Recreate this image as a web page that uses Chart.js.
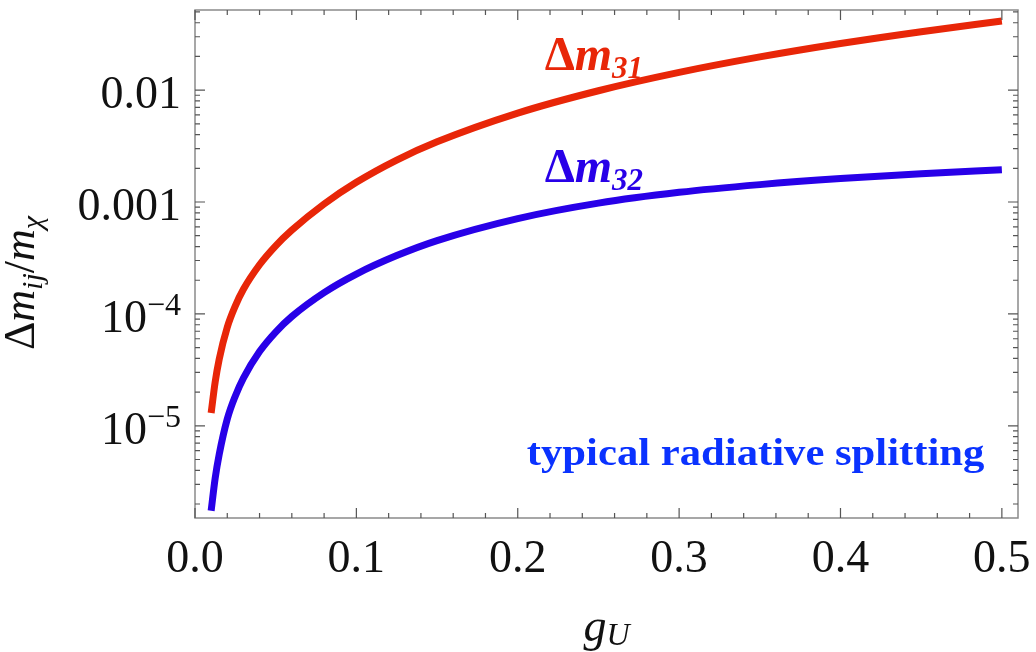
<!DOCTYPE html>
<html lang="en">
<head>
    <meta charset="UTF-8">
    <title>Radiative mass splitting</title>
    <script src="https://cdn.jsdelivr.net/npm/chart.js"></script>
    <style>
        body {
            margin: 0;
            background: #fff;
        }
        #wrap {
            width: 1036px;
            height: 652px;
        }
    </style>
</head>
<body>

<div id="wrap"><canvas id="splitChart"></canvas></div>

<script>
    // coupling g_U
    const gU = [0.01, 0.0125, 0.015, 0.02, 0.025, 0.03, 0.04, 0.05, 0.06, 0.08, 0.1,
                0.125, 0.15, 0.2, 0.25, 0.3, 0.35, 0.4, 0.45, 0.5];
    // Δm31 / m_χ
    const dm31 = [1.30e-5, 2.46e-5, 3.94e-5, 7.6e-5, 1.18e-4, 1.66e-4, 2.75e-4, 4.06e-4, 5.6e-4, 9.6e-4, 1.5e-3,
                  2.37e-3, 3.45e-3, 6.23e-3, 9.87e-3, 1.44e-2, 1.98e-2, 2.61e-2, 3.33e-2, 4.14e-2];
    // Δm32 / m_χ
    const dm32 = [1.74e-6, 3.40e-6, 5.56e-6, 1.15e-5, 1.85e-5, 2.67e-5, 4.61e-5, 6.89e-5, 9.48e-5, 1.55e-4, 2.27e-4,
                  3.32e-4, 4.52e-4, 7.11e-4, 9.77e-4, 1.22e-3, 1.43e-3, 1.62e-3, 1.79e-3, 1.94e-3];

    const xTickValues = [0, 0.1, 0.2, 0.3, 0.4, 0.5];
    const xTickLabels = ['0.0', '0.1', '0.2', '0.3', '0.4', '0.5'];
    const yTickValues = [0.01, 0.001, 1e-4, 1e-5];
    const yTickLabels = [['0.01', ''], ['0.001', ''], ['10', '\u22124'], ['10', '\u22125']];

    const RED = 'rgb(232, 38, 8)';
    const BLUE = 'rgb(40, 0, 232)';
    const TEXT_BLUE = 'rgb(10, 50, 255)';
    const SERIF = '"Liberation Serif", "DejaVu Serif", serif';

    // draw a run of text pieces: [text, font, dy, color]
    function drawRun(ctx, x, y, pieces) {
        let cx = x;
        pieces.forEach(p => {
            ctx.font = p[1];
            ctx.fillStyle = p[3] || '#111';
            ctx.fillText(p[0], cx, y + (p[2] || 0));
            cx += ctx.measureText(p[0]).width;
        });
        return cx - x;
    }

    function runWidth(ctx, pieces) {
        let w = 0;
        pieces.forEach(p => { ctx.font = p[1]; w += ctx.measureText(p[0]).width; });
        return w;
    }

    const framePlugin = {
        id: 'framePlugin',
        afterDraw(chart) {
            const ctx = chart.ctx;
            const a = chart.chartArea;
            const xs = chart.scales.x;
            const ys = chart.scales.y;
            ctx.save();

            // frame
            ctx.strokeStyle = '#8a8a8a';
            ctx.lineWidth = 1.5;
            ctx.strokeRect(a.left, a.top, a.right - a.left, a.bottom - a.top);

            // x ticks (inward, bottom and top)
            ctx.strokeStyle = '#555';
            ctx.lineWidth = 1.2;
            for (let i = 0; i <= 25; i++) {
                const v = i * 0.02;
                const px = xs.getPixelForValue(v);
                const len = (i % 5 === 0) ? 10 : 5;
                ctx.beginPath();
                ctx.moveTo(px, a.bottom); ctx.lineTo(px, a.bottom - len);
                ctx.moveTo(px, a.top); ctx.lineTo(px, a.top + len);
                ctx.stroke();
            }

            // y ticks (log, inward, left and right)
            for (let e = -6; e <= -2; e++) {
                for (let k = 1; k <= 9; k++) {
                    const v = k * Math.pow(10, e);
                    if (v < ys.min || v > ys.max) continue;
                    const py = ys.getPixelForValue(v);
                    const len = (k === 1) ? 10 : 5;
                    ctx.beginPath();
                    ctx.moveTo(a.left, py); ctx.lineTo(a.left + len, py);
                    ctx.moveTo(a.right, py); ctx.lineTo(a.right - len, py);
                    ctx.stroke();
                }
            }

            // y tick labels with exponents
            ctx.textBaseline = 'alphabetic';
            ctx.textAlign = 'left';
            yTickValues.forEach((v, i) => {
                const py = ys.getPixelForValue(v);
                const pieces = [[yTickLabels[i][0], '46px ' + SERIF, 0]];
                if (yTickLabels[i][1]) pieces.push([yTickLabels[i][1], '32px ' + SERIF, -17]);
                const w = runWidth(ctx, pieces);
                drawRun(ctx, a.left - 14 - w, py + 18, pieces);
            });

            // y axis title, rotated
            ctx.save();
            ctx.translate(34, 350);
            ctx.rotate(-Math.PI / 2);
            drawRun(ctx, 0, 0, [
                ['\u0394', '44px ' + SERIF, 0],
                ['m', 'italic 44px ' + SERIF, 0],
                ['ij', 'italic 30px ' + SERIF, 8],
                ['/', '44px ' + SERIF, 0],
                ['m', 'italic 44px ' + SERIF, 0],
                ['\u03c7', 'italic 30px ' + SERIF, 8]
            ]);
            ctx.restore();

            // x axis title
            const xt = [['g', 'italic 46px ' + SERIF, 0], ['U', 'italic 32px ' + SERIF, 4]];
            const xw = runWidth(ctx, xt);
            drawRun(ctx, (a.left + a.right) / 2 - xw / 2, 641, xt);

            // curve labels
            drawRun(ctx, xs.getPixelForValue(0.2167), ys.getPixelForValue(0.0151), [
                ['\u0394', 'bold 48px ' + SERIF, 0, RED],
                ['m', 'bold italic 48px ' + SERIF, 0, RED],
                ['31', 'bold italic 31px ' + SERIF, 8, RED]
            ]);
            drawRun(ctx, xs.getPixelForValue(0.2167), ys.getPixelForValue(1.51e-3), [
                ['\u0394', 'bold 48px ' + SERIF, 0, BLUE],
                ['m', 'bold italic 48px ' + SERIF, 0, BLUE],
                ['32', 'bold italic 31px ' + SERIF, 8, BLUE]
            ]);

            // note, stretched to the width it has in the original
            const note = 'typical radiative splitting';
            ctx.font = 'bold 37px ' + SERIF;
            ctx.fillStyle = TEXT_BLUE;
            ctx.textAlign = 'left';
            const nx0 = xs.getPixelForValue(0.2056);
            const nx1 = xs.getPixelForValue(0.4892);
            const ny = ys.getPixelForValue(4.49e-6);
            const sx = (nx1 - nx0) / ctx.measureText(note).width;
            ctx.save();
            ctx.translate(nx0, ny);
            ctx.scale(sx, 1);
            ctx.fillText(note, 0, 0);
            ctx.restore();

            ctx.restore();
        }
    };

    const ctx = document.getElementById('splitChart').getContext('2d');
    new Chart(ctx, {
        type: 'line',
        data: {
            datasets: [{
                label: 'Δm31',
                data: gU.map((g, i) => ({ x: g, y: dm31[i] })),
                borderColor: RED,
                borderWidth: 7,
                pointRadius: 0,
                cubicInterpolationMode: 'monotone',
                fill: false
            }, {
                label: 'Δm32',
                data: gU.map((g, i) => ({ x: g, y: dm32[i] })),
                borderColor: BLUE,
                borderWidth: 7,
                pointRadius: 0,
                cubicInterpolationMode: 'monotone',
                fill: false
            }]
        },
        options: {
            responsive: true,
            maintainAspectRatio: false,
            animation: false,
            layout: { padding: { top: 10, right: 18, left: 0, bottom: 0 } },
            plugins: {
                legend: { display: false },
                tooltip: { enabled: false }
            },
            scales: {
                x: {
                    type: 'linear',
                    min: 0,
                    max: 0.51,
                    afterBuildTicks: s => { s.ticks = xTickValues.map(v => ({ value: v })); },
                    afterFit: s => {
                        s.height = 134;
                        s.paddingLeft = 0;
                        s.paddingRight = 0;
                    },
                    ticks: {
                        autoSkip: false,
                        maxRotation: 0,
                        padding: 14,
                        color: '#111',
                        font: { family: SERIF, size: 46 },
                        callback: (v) => xTickLabels[xTickValues.indexOf(v)]
                    },
                    grid: { display: false, drawTicks: false },
                    border: { display: false }
                },
                y: {
                    type: 'logarithmic',
                    min: 1.5e-6,
                    max: 0.052,
                    afterFit: s => {
                        s.width = 195;
                        s.paddingTop = 0;
                        s.paddingBottom = 0;
                    },
                    ticks: { display: false },
                    grid: { display: false, drawTicks: false },
                    border: { display: false }
                }
            }
        },
        plugins: [framePlugin]
    });
</script>

</body>
</html>
